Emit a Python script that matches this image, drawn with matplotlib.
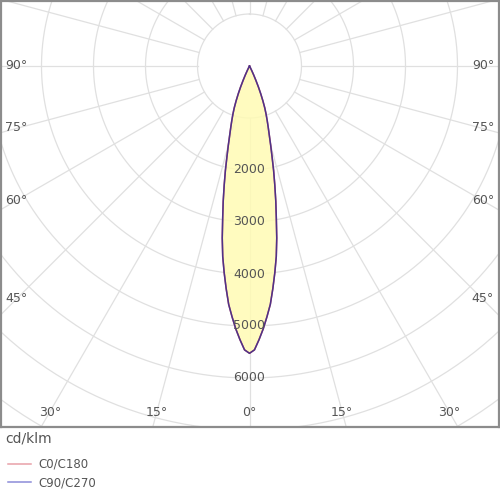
import numpy as np
import matplotlib
matplotlib.use("Agg")
import matplotlib.pyplot as plt
from matplotlib.lines import Line2D

# gamma angles (deg) and intensity (cd/klm)
gamma = list(range(0, 29))
c0_c180 = [5525, 5460, 5265, 5060, 4830, 4600, 4300, 4000, 3700, 3350,
           2970, 2650, 2340, 2060, 1790, 1570, 1380, 1230, 1100, 980,
           860, 720, 580, 440, 300, 190, 100, 40, 0]
c90_c270 = [5525, 5460, 5265, 5060, 4830, 4600, 4300, 4000, 3700, 3350,
            2970, 2650, 2340, 2060, 1790, 1570, 1380, 1230, 1100, 980,
            860, 720, 580, 440, 300, 190, 100, 40, 0]

ring_vals = [1000, 2000, 3000, 4000, 5000, 6000, 7000, 8000, 9000]
ring_labels = [2000, 3000, 4000, 5000, 6000]
side_angles = [90, 75, 60, 45]
bottom_angles = [30, 15, 0]

grid_col = "#e0e0e0"
text_col = "#555555"


def curve(vals):
    g = np.radians(np.array(gamma, dtype=float))
    v = np.array(vals, dtype=float)
    # mirror to both sides of nadir
    g_all = np.concatenate([-g[::-1], g[1:]])
    v_all = np.concatenate([v[::-1], v[1:]])
    return v_all * np.sin(g_all), -v_all * np.cos(g_all)


fig = plt.figure(figsize=(5, 5), dpi=100)
ax = fig.add_axes([0.002, 0.146, 0.996, 0.852])
s = 0.052  # px per cd/klm
ax.set_xlim((1 - 249.5) / s, (499 - 249.5) / s)
ax.set_ylim(-(427 - 66) / s, (66 - 1) / s)
ax.set_xticks([])
ax.set_yticks([])
for sp in ax.spines.values():
    sp.set_color("#8c8c8c")
    sp.set_linewidth(1.6)

# grid rings
t = np.linspace(0, 2 * np.pi, 400)
for r in ring_vals:
    ax.plot(r * np.sin(t), r * np.cos(t), color=grid_col, lw=0.9, zorder=1)
# radial lines every 15 deg, starting at the 1000 ring
for a in range(0, 360, 15):
    ar = np.radians(a)
    ax.plot([1000 * np.sin(ar), 12000 * np.sin(ar)],
            [-1000 * np.cos(ar), -12000 * np.cos(ar)],
            color=grid_col, lw=0.9, zorder=1)

x1, y1 = curve(c0_c180)
x2, y2 = curve(c90_c270)
ax.fill(x2, y2, color="#fffbb4", alpha=0.85, zorder=2, lw=0)
ax.plot(x1, y1, color="#d06070", lw=1.1, zorder=3)
ax.plot(x2, y2, color="#4e3388", lw=1.1, zorder=4)

for r in ring_labels:
    ax.text(0, -r, str(r), ha="center", va="center", fontsize=9,
            color=text_col, zorder=5)

xs = 4490
for a in side_angles:
    ar = np.radians(a)
    y = -xs / np.tan(ar) if a != 90 else 0
    y += 15
    ax.text(-xs, y, f"{a}°", ha="center", va="center", fontsize=9, color=text_col)
    ax.text(xs, y, f"{a}°", ha="center", va="center", fontsize=9, color=text_col)

yb = -(412 - 66) / s
for a in bottom_angles:
    xb = -yb * np.tan(np.radians(a))
    ax.text(-xb, yb, f"{a}°", ha="center", va="center", fontsize=9, color=text_col)
    if a != 0:
        ax.text(xb, yb, f"{a}°", ha="center", va="center", fontsize=9, color=text_col)

fig.text(0.01, 1 - 438 / 500, "cd/klm", ha="left", va="center", fontsize=10, color=text_col)
handles = [Line2D([], [], color="#e8a0a8", lw=1.1),
           Line2D([], [], color="#8c8cd8", lw=1.1)]
fig.legend(handles, ["C0/C180", "C90/C270"], loc="upper left",
           bbox_to_anchor=(0.006, 1 - 453 / 500), frameon=False, fontsize=8.5,
           handlelength=2.0, handletextpad=0.6, labelspacing=0.45,
           labelcolor=text_col, borderaxespad=0)

fig.savefig("out.png", dpi=100, facecolor="white")
